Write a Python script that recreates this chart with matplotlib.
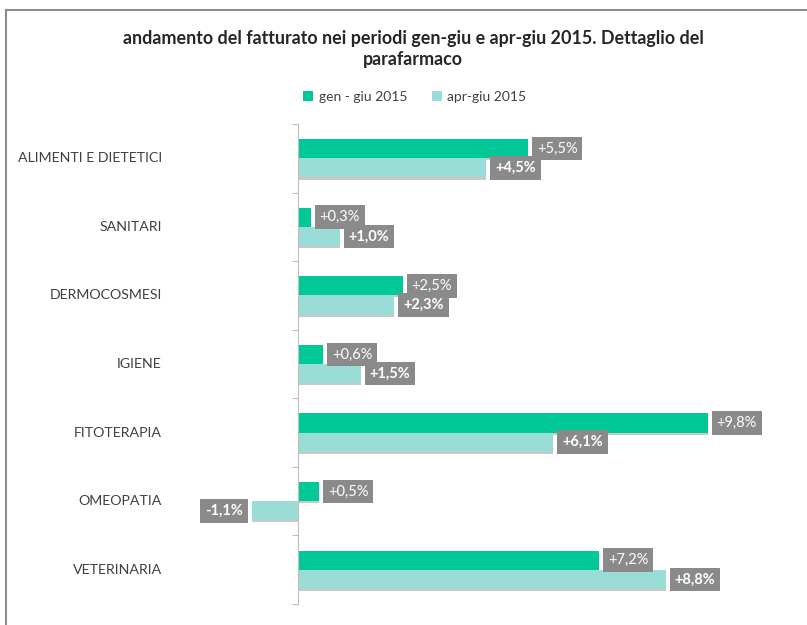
import numpy as np
import matplotlib
matplotlib.use("Agg")
import matplotlib.pyplot as plt
from matplotlib.lines import Line2D
from matplotlib.patches import Patch
import matplotlib.transforms as mtransforms

# ---------- Data ----------
categories = ["ALIMENTI E DIETETICI", "SANITARI", "DERMOCOSMESI", "IGIENE",
              "FITOTERAPIA", "OMEOPATIA", "VETERINARIA"]
gen_giu = [5.5, 0.3, 2.5, 0.6, 9.8, 0.5, 7.2]
apr_giu = [4.5, 1.0, 2.3, 1.5, 6.1, -1.1, 8.8]
series_names = ["gen - giu 2015", "apr-giu 2015"]
title = "andamento del fatturato nei periodi gen-giu e apr-giu 2015. Dettaglio del\nparafarmaco"

# ---------- Style ----------
C_DARK = "#00C896"
C_LIGHT = "#99DDD6"
C_BOX = "#8A8A8A"
C_TEXT = "#404040"
plt.rcParams["font.family"] = ["Lato", "DejaVu Sans"]

W, H = 807, 625
fig = plt.figure(figsize=(W / 100, H / 100), dpi=100)
ax = fig.add_axes([170 / W, 1 - 604 / H, (790 - 170) / W, (604 - 124) / H])

PX = 41.8  # pixels per percentage point
ax.set_xlim((170 - 298) / PX, (790 - 298) / PX)
ax.set_ylim(len(categories) - 0.5, -0.5)

y = np.arange(len(categories))
BH = 0.28
OFF = 0.14

def fmt(v):
    return ("+" if v >= 0 else "") + f"{v:.1f}".replace(".", ",") + "%"

for vals, off, col, bold in [(gen_giu, -OFF, C_DARK, False), (apr_giu, OFF, C_LIGHT, True)]:
    # soft shadow
    ax.barh(y + off + 0.03, vals, height=BH, color="#C8C8C8", zorder=1)
    ax.barh(y + off, vals, height=BH, color=col, zorder=2)
    for yi, v in zip(y, vals):
        ax.annotate(fmt(v), xy=(v, yi + off), xytext=(9 if v >= 0 else -9, 0),
                    textcoords="offset pixels",
                    ha="left" if v >= 0 else "right", va="center",
                    fontsize=10.5, color="white",
                    fontweight="bold" if bold else "normal", zorder=4,
                    bbox=dict(boxstyle="square,pad=0.33", fc=C_BOX, ec="none"))

# zero axis with boundary ticks
ax.spines["left"].set_position(("data", 0))
ax.spines["left"].set_color("#BFBFBF")
ax.spines["left"].set_zorder(3)
for s in ("top", "right", "bottom"):
    ax.spines[s].set_visible(False)
ax.set_xticks([])
ax.set_yticks(np.arange(len(categories) + 1) - 0.5)
ax.set_yticklabels([])
ax.tick_params(axis="y", length=4, color="#BFBFBF", direction="out")

trans = mtransforms.blended_transform_factory(ax.transAxes, ax.transData)
for yi, c in zip(y, categories):
    ax.text(-8 / (790 - 170), yi, c, transform=trans, ha="right", va="center",
            fontsize=10.2, color=C_TEXT)

# ---------- Title & legend ----------
fig.text(413 / W, 1 - 49 / H, title, ha="center", va="center", fontsize=12.9,
         fontweight="bold", color="#262626", linespacing=1.3)
handles = [Patch(facecolor=C_DARK, edgecolor="none", label=series_names[0]),
           Patch(facecolor=C_LIGHT, edgecolor="none", label=series_names[1])]
fig.legend(handles=handles, loc="center", bbox_to_anchor=(415 / W, 1 - 97 / H),
           ncol=2, frameon=False, fontsize=10, handlelength=0.7,
           handleheight=0.7, handletextpad=0.4, columnspacing=1.8,
           labelcolor=C_TEXT)

# outer frame (left and top edges)
fig.add_artist(Line2D([6.5 / W, 6.5 / W], [0, 1 - 9.5 / H], color="#8C8C8C",
                      lw=1.5, transform=fig.transFigure))
fig.add_artist(Line2D([6.5 / W, 1], [1 - 9.5 / H, 1 - 9.5 / H], color="#8C8C8C",
                      lw=1.5, transform=fig.transFigure))

fig.savefig("out.png", dpi=100)
